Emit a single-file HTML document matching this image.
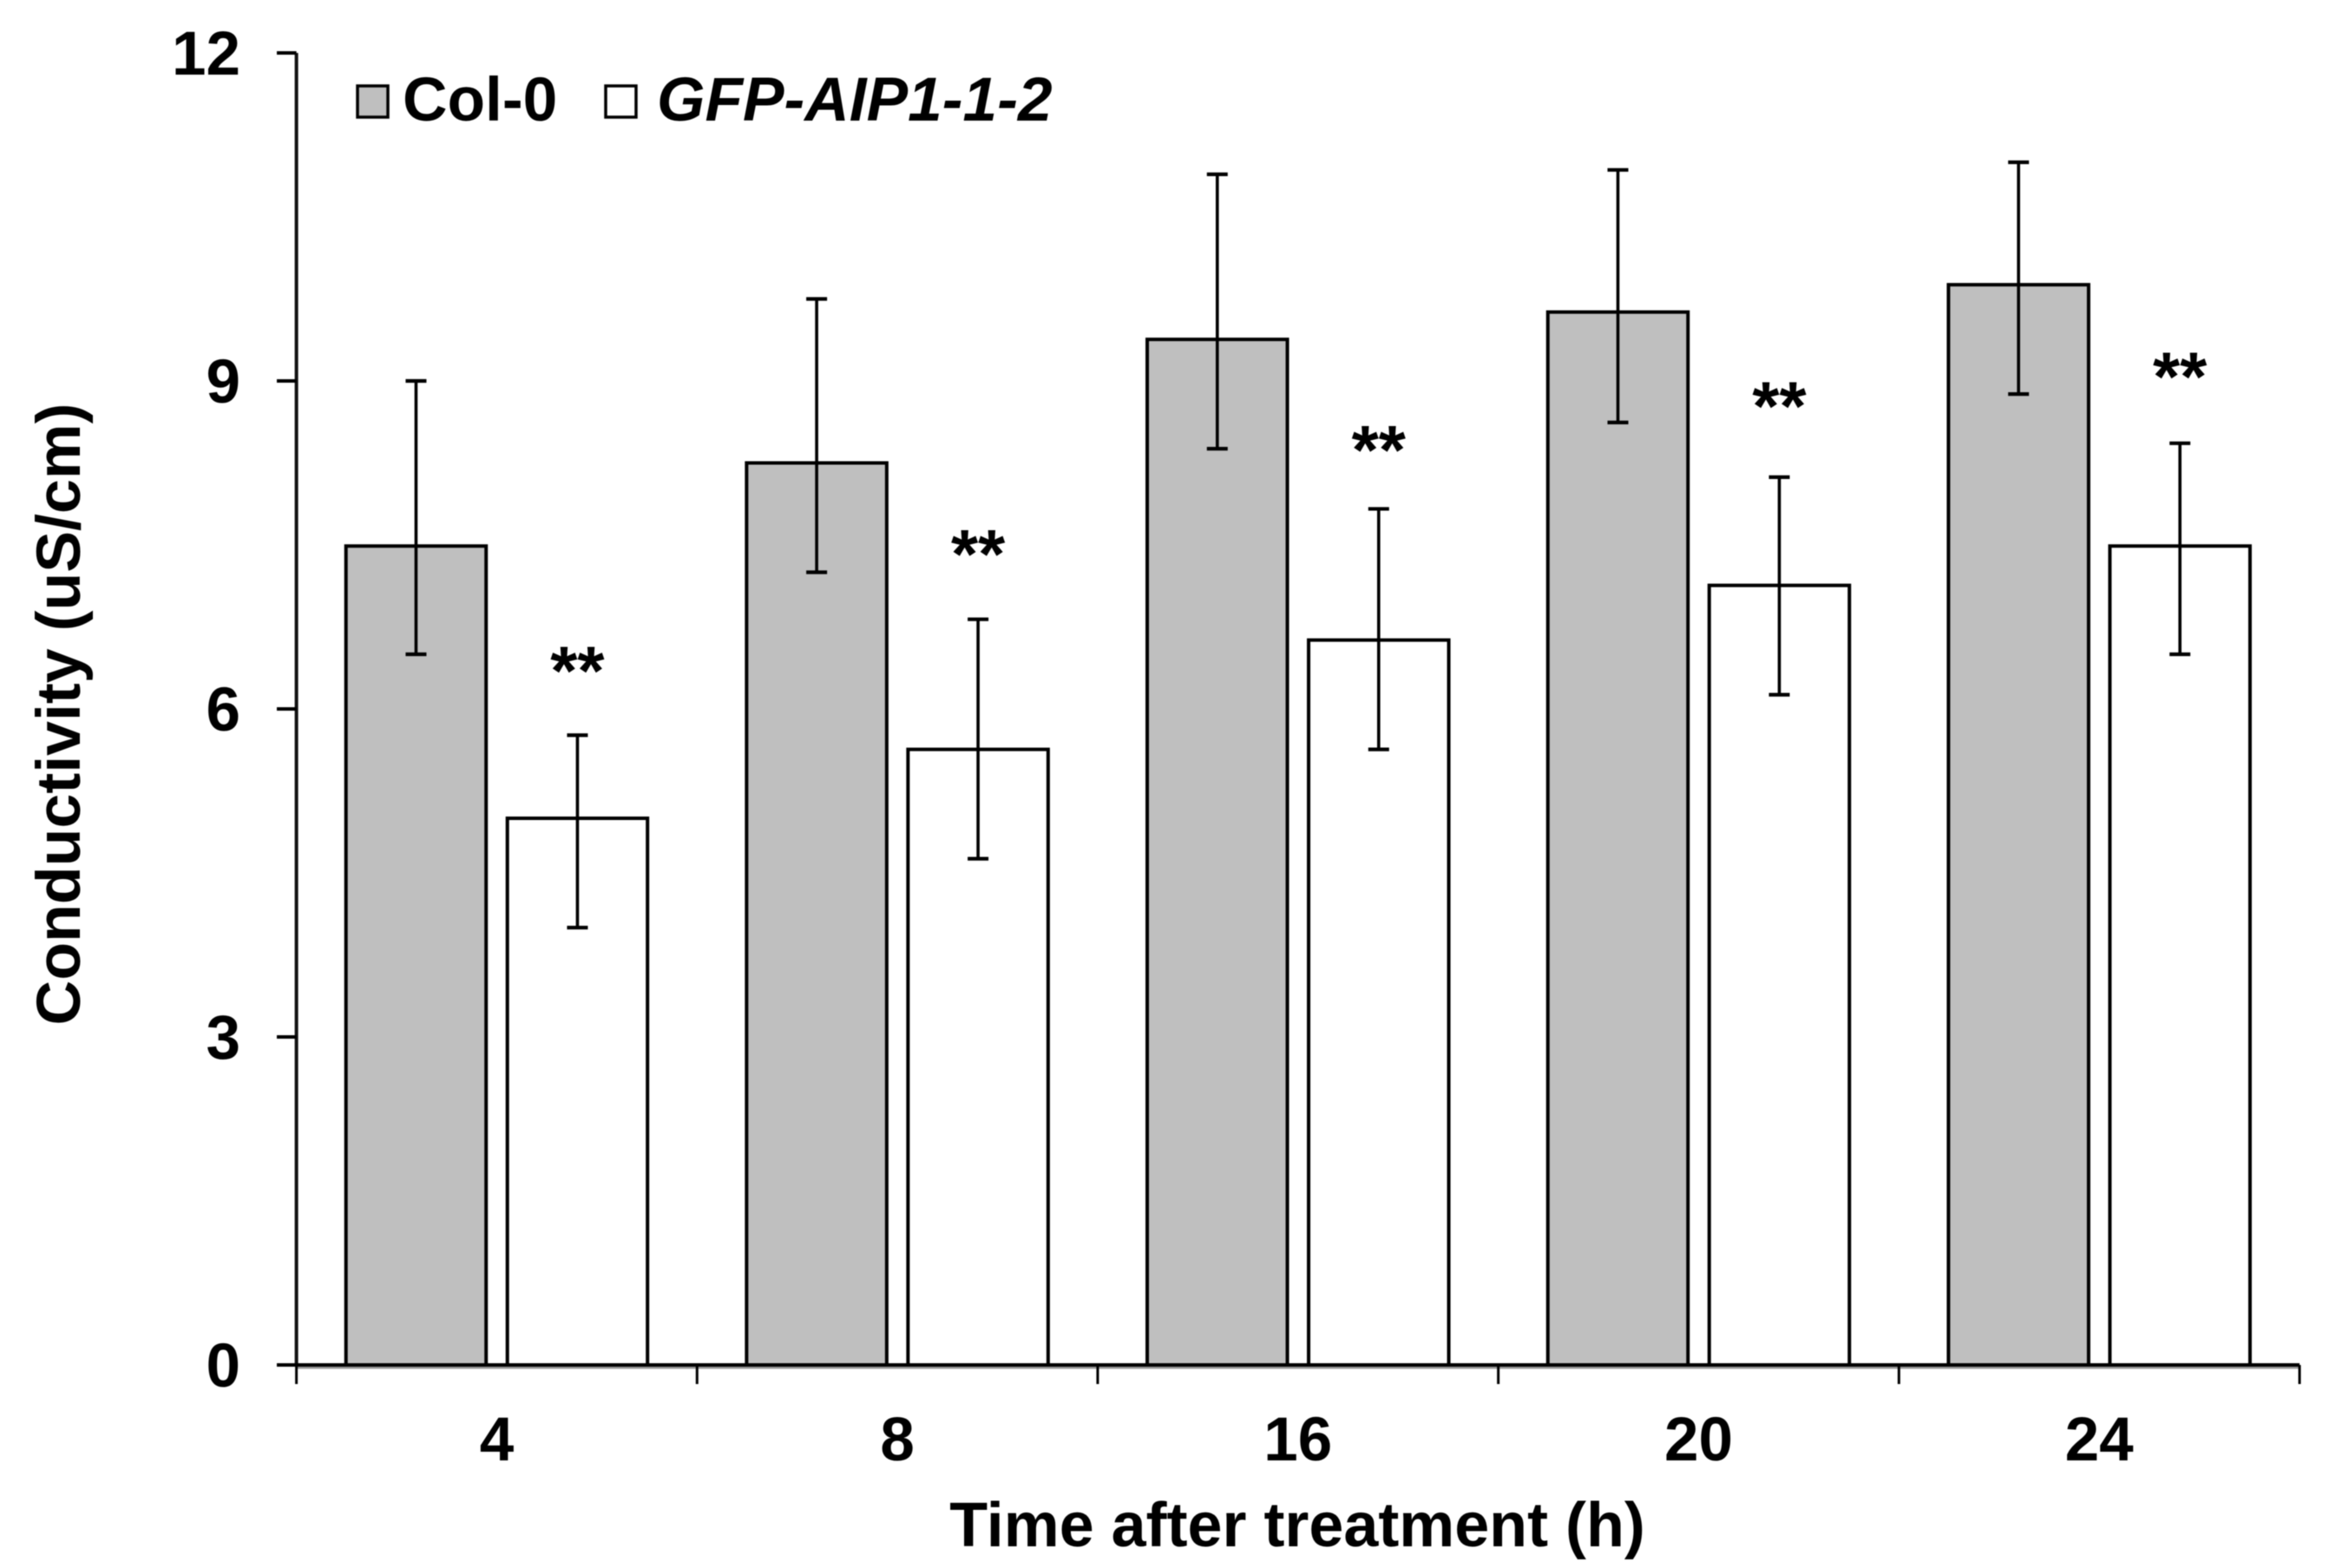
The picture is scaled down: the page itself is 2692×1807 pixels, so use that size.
<!DOCTYPE html>
<html>
<head>
<meta charset="utf-8">
<title>Conductivity after treatment</title>
<style>
html,body{margin:0;padding:0;background:#fff;width:2692px;height:1807px;overflow:hidden}
svg{display:block;filter:blur(0.6px)}
text{font-family:"Liberation Sans",Arial,sans-serif;font-weight:700;fill:#000}
</style>
</head>
<body>
<svg id="chart" width="2692" height="1807" viewBox="0 0 2692 1807" xmlns="http://www.w3.org/2000/svg">
  <rect x="0" y="0" width="2692" height="1807" fill="#fff"/>
  <g id="bars"></g>
  <g id="errors"></g>
  <g id="stars"></g>
  <g id="axes"></g>
  <g>
    <rect x="412" y="99" width="35" height="36" fill="#bfbfbf" stroke="#000" stroke-width="3.5"/>
    <text x="464" y="139" font-size="71.3">Col-0</text>
    <rect x="698" y="99" width="35" height="36" fill="#fff" stroke="#000" stroke-width="3.5"/>
    <text x="757" y="139" font-size="71.3" font-style="italic">GFP-AIP1-1-2</text>
  </g>
  <text x="1495" y="1782" font-size="71.9" text-anchor="middle">Time after treatment (h)</text>
  <text transform="translate(92,823) rotate(-90)" font-size="71.7" text-anchor="middle">Conductivity (uS/cm)</text>
</svg>
<script>
const categories = ["4", "8", "16", "20", "24"];
const yTicks = [0, 3, 6, 9, 12];
const col0Values = [7.49, 8.25, 9.38, 9.63, 9.88];
const col0ErrHigh = [9.0, 9.75, 10.89, 10.93, 11.0];
const col0ErrLow = [6.5, 7.25, 8.38, 8.62, 8.88];
const gfpValues = [5.0, 5.63, 6.63, 7.13, 7.49];
const gfpErrHigh = [5.76, 6.82, 7.83, 8.12, 8.43];
const gfpErrLow = [4.0, 4.63, 5.63, 6.13, 6.5];
const starLabels = ["**", "**", "**", "**", "**"];
const starHeights = [6.13, 7.20, 8.15, 8.55, 8.82];

const NS = "http://www.w3.org/2000/svg";
const plotLeft = 341.6, plotRight = 2650, plotTop = 61, plotBottom = 1573, yMax = 12;
const catWidth = (plotRight - plotLeft) / categories.length;
const barWidth = 161.5, barGap = 24.5, barMargin = (catWidth - 2 * barWidth - barGap) / 2;

function yScale(v) { return plotBottom - (v / yMax) * (plotBottom - plotTop); }
function catLeft(i) { return plotLeft + i * catWidth; }
function barX(i, s) { return catLeft(i) + barMargin + s * (barWidth + barGap); }
function make(tag, attrs, parent) {
  const el = document.createElementNS(NS, tag);
  for (const k in attrs) el.setAttribute(k, attrs[k]);
  parent.appendChild(el);
  return el;
}

const barsG = document.getElementById("bars");
const errorsG = document.getElementById("errors");
const starsG = document.getElementById("stars");
const axesG = document.getElementById("axes");

function drawSeries(values, hi, lo, s, fill, key) {
  values.forEach(function (v, i) {
    const x = barX(i, s);
    const bar = make("rect", { x: x, y: yScale(v), width: barWidth, height: plotBottom - yScale(v), fill: fill, stroke: "#000", "stroke-width": 4 }, barsG);
    
    
    const cx = x + barWidth / 2;
    const stem = make("line", { x1: cx, x2: cx, y1: yScale(hi[i]), y2: yScale(lo[i]), stroke: "#000", "stroke-width": 3.6 }, errorsG);
    
    
    const capHi = make("line", { x1: cx - 12, x2: cx + 12, y1: yScale(hi[i]), y2: yScale(hi[i]), stroke: "#000", "stroke-width": 4.2 }, errorsG);
    
    
    const capLo = make("line", { x1: cx - 12, x2: cx + 12, y1: yScale(lo[i]), y2: yScale(lo[i]), stroke: "#000", "stroke-width": 4.2 }, errorsG);
    
    
  });
}
drawSeries(col0Values, col0ErrHigh, col0ErrLow, 0, "#bfbfbf", "col-0");
drawSeries(gfpValues, gfpErrHigh, gfpErrLow, 1, "#ffffff", "gfp-aip1-1-2");

starLabels.forEach(function (label, i) {
  const cx = barX(i, 1) + barWidth / 2;
  const t = make("text", { x: cx, y: yScale(starHeights[i]), "font-size": 80, "text-anchor": "middle" }, starsG);
  
  
  t.textContent = label;
});

const yAxisLine = make("line", { x1: plotLeft, x2: plotLeft, y1: plotTop, y2: plotBottom, stroke: "#111", "stroke-width": 4 }, axesG);


const xShadow = make("line", { x1: plotLeft, x2: plotRight, y1: plotBottom + 3, y2: plotBottom + 3, stroke: "#999", "stroke-width": 3 }, axesG);


const xAxisLine = make("line", { x1: 320, x2: plotRight, y1: plotBottom, y2: plotBottom, stroke: "#000", "stroke-width": 4 }, axesG);



yTicks.forEach(function (v) {
  const y = yScale(v);
  const tick = make("line", { x1: 319, x2: plotLeft, y1: y, y2: y, stroke: "#000", "stroke-width": 4 }, axesG);
  
  
  const label = make("text", { x: 277, y: y + 25, "font-size": 71, "text-anchor": "end" }, axesG);
  
  
  label.textContent = v;
});

categories.forEach(function (c, i) {
  const label = make("text", { x: catLeft(i) + catWidth / 2, y: 1683, "font-size": 71, "text-anchor": "middle" }, axesG);
  
  
  label.textContent = c;
});
for (let i = 0; i <= categories.length; i++) {
  const tick = make("line", { x1: catLeft(i), x2: catLeft(i), y1: plotBottom, y2: 1595, stroke: "#000", "stroke-width": 3 }, axesG);
  
  
}
</script>
</body>
</html>
